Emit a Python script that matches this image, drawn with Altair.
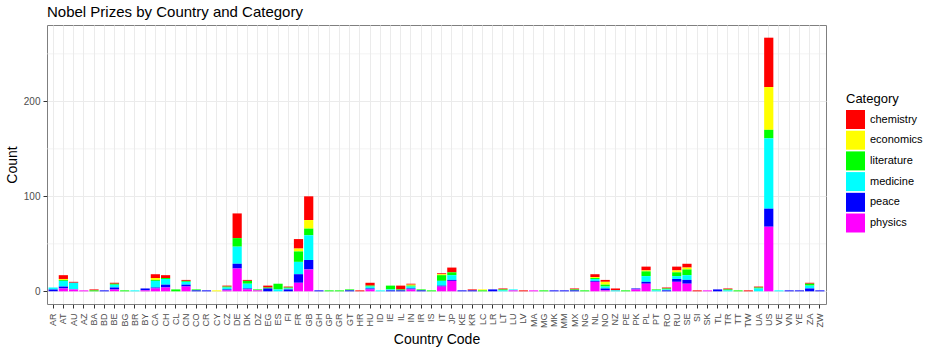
import altair as alt
import pandas as pd

countries = ["AR","AT","AU","AZ","BA","BD","BE","BG","BR","BY","CA","CH","CL","CN","CO","CR","CY","CZ","DE","DK",
             "DZ","EG","ES","FI","FR","GB","GH","GP","GR","GT","HR","HU","ID","IE","IL","IN","IR","IS","IT","JP",
             "KE","KR","LC","LR","LT","LU","LV","MA","MG","MK","MM","MX","NG","NL","NO","NZ","PE","PK","PL","PT",
             "RO","RU","SE","SI","SK","TL","TR","TT","TW","UA","US","VE","VN","YE","ZA","ZW"]

categories = ["chemistry", "economics", "literature", "medicine", "peace", "physics"]
colors = ["#FF0000", "#FFFF00", "#00FF00", "#00FFFF", "#0000FF", "#FF00FF"]

chemistry = [0,4,1,0,1,0,1,0,0,0, 4,3,0,1,0,0,0,1,26,1, 0,2,0,1,10,25,0,0,0,0,
             1,3,0,0,4,1,0,0,1,5, 0,1,0,0,1,0,1,0,0,0, 0,1,0,3,2,2,0,0,4,0,
             1,4,4,1,0,0,1,0,1,1, 52,0,0,0,1,0]
economics = [0,1,0,0,0,0,0,0,0,0, 2,0,0,0,0,0,1,0,0,0, 0,0,0,0,3,9,0,0,0,0,
             0,0,0,0,0,1,0,0,1,0, 0,0,1,0,0,0,0,0,0,0, 0,0,0,1,3,0,0,0,1,0,
             0,2,2,0,0,0,0,0,0,0, 45,0,0,0,0,0]
literature = [0,1,0,0,1,0,1,1,0,0, 1,1,2,1,1,0,0,1,9,3, 1,1,6,1,11,7,0,1,1,1,
              0,1,0,4,1,1,1,1,6,3, 0,0,1,0,1,0,0,0,1,0, 0,1,1,1,2,0,1,0,5,1,
              1,4,6,0,0,0,1,1,0,1, 9,0,0,0,2,0]
medicine = [2,6,7,0,0,0,3,0,1,0, 7,6,0,3,0,0,0,2,18,5, 0,0,2,1,13,26,0,0,0,0,
            0,2,1,1,0,2,0,0,5,5, 0,0,0,0,1,1,0,0,0,0, 0,0,0,2,2,1,0,0,6,1,
            1,3,5,0,0,0,1,0,0,3, 74,1,0,0,3,0]
peace = [2,2,0,0,0,1,2,0,0,2, 1,3,0,2,1,1,0,1,5,1, 0,3,0,2,9,10,1,0,0,1,
         0,1,0,1,1,1,1,0,1,1, 1,1,0,2,0,0,0,0,0,1, 1,1,0,1,2,0,0,1,2,0,
         1,3,4,0,0,2,0,0,0,0, 19,0,1,1,3,1]
physics = [0,3,2,1,0,0,2,0,0,1, 3,4,0,5,0,0,0,1,24,2, 1,0,0,0,9,23,0,0,0,0,
           0,2,0,0,0,2,0,0,5,11, 0,0,0,0,0,1,0,1,0,0, 0,0,0,10,1,0,0,2,8,0,
           0,10,8,0,1,0,0,0,0,0, 68,0,0,0,0,0]

minor_grid = [50, 150, 250]
major_ticks = [0, 100, 200]

series = [chemistry, economics, literature, medicine, peace, physics]
rows = []
for ci, (cat, vals) in enumerate(zip(categories, series)):
    for country, v in zip(countries, vals):
        if v > 0:
            rows.append({"country": country, "category": cat, "count": v,
                         "stack_rank": len(categories) - 1 - ci})
df = pd.DataFrame(rows)

ymax = 267
pad = ymax * 0.05
ydom = [-pad, ymax + pad]

yscale = alt.Scale(domain=ydom, nice=False, zero=False)

minor = alt.Chart(pd.DataFrame({"v": minor_grid})).mark_rule(
    color="#ebebeb", strokeWidth=0.6
).encode(y=alt.Y("v:Q", scale=yscale))

bars = alt.Chart(df).mark_bar().encode(
    x=alt.X("country:N", sort=countries,
            scale=alt.Scale(domain=countries, paddingInner=0.1, paddingOuter=0.15),
            axis=alt.Axis(title="Country Code", labelAngle=-90, labelFontSize=9,
                          labelColor="#4d4d4d", labelPadding=5, tickColor="#333333",
                          tickSize=4, grid=True, gridColor="#ebebeb", gridWidth=1,
                          bandPosition=0.5, domain=False, titleFontSize=14,
                          titleFontWeight="normal", titleColor="#000000",
                          titlePadding=5)),
    y=alt.Y("count:Q", stack="zero", scale=yscale,
            axis=alt.Axis(title="Count", values=major_ticks, labelFontSize=10,
                          labelColor="#4d4d4d", labelPadding=3, tickColor="#333333",
                          tickSize=4, grid=True, gridColor="#ebebeb", gridWidth=1,
                          domain=False, titleFontSize=14, titleFontWeight="normal",
                          titleColor="#000000", titlePadding=4)),
    color=alt.Color("category:N", scale=alt.Scale(domain=categories, range=colors),
                    legend=alt.Legend(title="Category", orient="none", legendX=799,
                                      legendY=68, titleFontSize=13,
                                      titleFontWeight="normal", titleColor="#000000",
                                      labelFontSize=11, labelColor="#000000",
                                      symbolType="square", symbolSize=361,
                                      symbolStrokeWidth=0, rowPadding=1.7,
                                      labelOffset=5, titlePadding=4)),
    order=alt.Order("stack_rank:Q", sort="ascending"),
)

chart = alt.layer(minor, bars).properties(
    width=779,
    height=279,
    autosize=alt.AutoSizeParams(type="none"),
    padding={"left": 47, "top": 25, "right": 104, "bottom": 50},
    title=alt.TitleParams("Nobel Prizes by Country and Category", anchor="start",
                          frame="group", fontSize=15, fontWeight="normal",
                          color="#000000", offset=5),
).configure(font="Liberation Sans").configure_view(
    stroke="#7f7f7f", strokeWidth=1
)

chart.save("out.html", embed_options={"renderer": "svg", "actions": False})
